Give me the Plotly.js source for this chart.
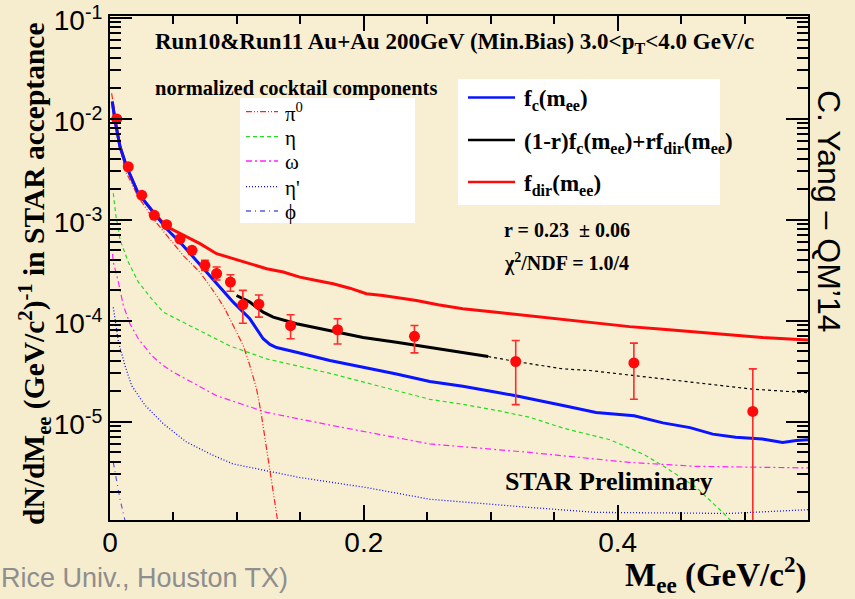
<!DOCTYPE html>
<html>
<head>
<meta charset="utf-8">
<script src="https://cdn.plot.ly/plotly-3.0.1.min.js"></script>
<style>
  html, body { margin: 0; padding: 0; background: #f6ecce; }
  #chart { width: 855px; height: 599px; }
</style>
</head>
<body>
<div id="chart"></div>
<script>
// Measured dielectron yield, Au+Au 200 GeV, 3.0 < pT < 4.0 GeV/c
const dataMass  = [0.0053, 0.0144, 0.025, 0.0349, 0.0446, 0.0551, 0.0646, 0.0748, 0.084, 0.0949, 0.1047, 0.1173, 0.1423, 0.1793, 0.2399, 0.3197, 0.4128, 0.5065];
const dataYield = [9.9e-3, 3.33e-3, 1.74e-3, 1.10e-3, 8.9e-4, 6.4e-4, 4.95e-4, 3.52e-4, 2.92e-4, 2.40e-4, 1.44e-4, 1.45e-4, 8.9e-5, 8.1e-5, 6.97e-5, 3.93e-5, 3.80e-5, 1.26e-5];
const dataHigh  = [1.05e-2, 3.5e-3, 1.83e-3, 1.16e-3, 9.4e-4, 6.8e-4, 5.3e-4, 3.94e-4, 3.39e-4, 2.84e-4, 1.99e-4, 1.79e-4, 1.14e-4, 1.04e-4, 8.93e-5, 6.34e-5, 5.97e-5, 3.32e-5];
const dataLow   = [9.3e-3, 3.16e-3, 1.65e-3, 1.04e-3, 8.4e-4, 6.0e-4, 4.6e-4, 3.13e-4, 2.52e-4, 1.95e-4, 9.4e-5, 1.08e-4, 6.6e-5, 5.86e-5, 4.78e-5, 1.47e-5, 1.66e-5, 1e-7];

// f_c(m_ee): hadronic cocktail shape
const fcMass  = [0.0018, 0.0039, 0.0079, 0.0131, 0.0223, 0.0328, 0.0446, 0.0577, 0.0709, 0.084, 0.0971, 0.1102, 0.1207, 0.126, 0.1312, 0.147, 0.1732, 0.1995, 0.2257, 0.252, 0.278, 0.3045, 0.3197, 0.357, 0.383, 0.413, 0.4357, 0.457, 0.475, 0.493, 0.514, 0.530, 0.5407, 0.55];
const fcYield = [1.47e-2, 9.66e-3, 5.25e-3, 3.33e-3, 1.81e-3, 1.24e-3, 8.1e-4, 5.5e-4, 3.55e-4, 2.31e-4, 1.52e-4, 1.04e-4, 6.6e-5, 5.8e-5, 5.4e-5, 4.86e-5, 4.02e-5, 3.45e-5, 2.96e-5, 2.49e-5, 2.24e-5, 1.95e-5, 1.8e-5, 1.44e-5, 1.23e-5, 1.14e-5, 9.7e-6, 8.7e-6, 7.5e-6, 7.0e-6, 6.7e-6, 6.2e-6, 6.5e-6, 6.6e-6];

// f_dir(m_ee): direct virtual photon shape
const fdirMass  = [0.0018, 0.0039, 0.0079, 0.0131, 0.0223, 0.0328, 0.0446, 0.0577, 0.0709, 0.084, 0.0971, 0.1102, 0.1234, 0.1365, 0.1496, 0.1627, 0.1758, 0.189, 0.202, 0.215, 0.2283, 0.2415, 0.2585, 0.278, 0.3045, 0.331, 0.357, 0.383, 0.4094, 0.4357, 0.462, 0.488, 0.514, 0.55];
const fdirYield = [1.47e-2, 9.66e-3, 5.25e-3, 3.33e-3, 1.81e-3, 1.24e-3, 8.5e-4, 6.98e-4, 5.77e-4, 4.59e-4, 4.09e-4, 3.65e-4, 3.26e-4, 3.02e-4, 2.69e-4, 2.49e-4, 2.31e-4, 2.09e-4, 1.84e-4, 1.77e-4, 1.67e-4, 1.58e-4, 1.43e-4, 1.31e-4, 1.21e-4, 1.11e-4, 1.03e-4, 9.5e-5, 8.7e-5, 8.2e-5, 7.7e-5, 7.2e-5, 6.8e-5, 6.4e-5];

// (1-r) f_c + r f_dir: fitted range and extrapolation
const fitMass  = [0.0997, 0.1102, 0.1207, 0.1286, 0.147, 0.160, 0.1785, 0.1995, 0.2257, 0.2415, 0.26, 0.298];
const fitYield = [1.77e-4, 1.52e-4, 1.21e-4, 1.08e-4, 9.3e-5, 8.6e-5, 7.8e-5, 6.8e-5, 6.1e-5, 5.7e-5, 5.2e-5, 4.4e-5];
const extMass  = [0.298, 0.3197, 0.357, 0.378, 0.413, 0.457, 0.5065, 0.55];
const extYield = [4.4e-5, 3.93e-5, 3.32e-5, 3.2e-5, 2.85e-5, 2.45e-5, 2.09e-5, 1.93e-5];

// Normalized cocktail components
const pi0Mass  = [0.0013, 0.0065, 0.0118, 0.0223, 0.034, 0.0577, 0.0709, 0.084, 0.0906, 0.0945, 0.105, 0.1102, 0.1155, 0.119, 0.126, 0.1325, 0.135];
const pi0Yield = [1.78e-2, 6.6e-3, 3.09e-3, 1.67e-3, 1.02e-3, 4.4e-4, 3.0e-4, 1.77e-4, 1.3e-4, 1.04e-4, 5.65e-5, 3.58e-5, 2.1e-5, 1.23e-5, 3.4e-6, 1.0e-6, 6e-7];
const etaMass  = [0.0026, 0.0045, 0.0066, 0.0079, 0.0144, 0.0223, 0.0328, 0.042, 0.0577, 0.084, 0.0945, 0.1234, 0.1758, 0.218, 0.252, 0.278, 0.3045, 0.331, 0.357, 0.394, 0.42, 0.4357, 0.462, 0.480, 0.4907, 0.495];
const etaYield = [1.82e-3, 1.12e-3, 8.1e-4, 6.3e-4, 3.8e-4, 2.4e-4, 1.64e-4, 1.21e-4, 9.6e-5, 6.6e-5, 5.6e-5, 4.17e-5, 2.95e-5, 2.14e-5, 1.66e-5, 1.48e-5, 1.29e-5, 1.10e-5, 8.6e-6, 6.6e-6, 4.76e-6, 3.65e-6, 2.22e-6, 1.36e-6, 1.0e-6, 7.9e-7];
const omegaMass  = [0.002, 0.0026, 0.0066, 0.0105, 0.0157, 0.0223, 0.0328, 0.042, 0.0499, 0.084, 0.1234, 0.1758, 0.252, 0.331, 0.409, 0.462, 0.55];
const omegaYield = [4.57e-4, 3.8e-4, 2.4e-4, 1.41e-4, 9.3e-5, 6.6e-5, 4.5e-5, 3.58e-5, 3.08e-5, 1.8e-5, 1.23e-5, 9.1e-6, 6.0e-6, 4.94e-6, 3.94e-6, 3.6e-6, 3.47e-6];
const etapMass  = [0.0026, 0.0066, 0.0118, 0.0171, 0.0276, 0.042, 0.06, 0.08, 0.097, 0.1496, 0.202, 0.252, 0.331, 0.383, 0.488, 0.55];
const etapYield = [1.35e-4, 6.2e-5, 3.58e-5, 2.26e-5, 1.45e-5, 9.5e-6, 6.3e-6, 4.7e-6, 3.8e-6, 2.79e-6, 2.22e-6, 1.70e-6, 1.41e-6, 1.26e-6, 1.23e-6, 1.34e-6];
const phiMass  = [0.0026, 0.0053, 0.0079, 0.0118, 0.014];
const phiYield = [3.94e-6, 2.49e-6, 1.70e-6, 1.05e-6, 7.9e-7];

// Axis tick labels
const xTickVals = [0, 0.2, 0.4];
const xTickText = ['0', '0.2', '0.4'];
const yTickVals = [1e-5, 1e-4, 1e-3, 1e-2, 1e-1];
const yTickText = ['10<sup>-5</sup>', '10<sup>-4</sup>', '10<sup>-3</sup>', '10<sup>-2</sup>', '10<sup>-1</sup>'];

// Legend entries
const cocktailNames  = ['π<sup>0</sup>', 'η', 'ω', 'η\'', 'ϕ'];
const cocktailColors = ['#ff2020', '#22dd22', '#ff22ff', '#1010ff', '#5a5af0'];
const cocktailDash   = ['6px,2px,1px,2px,1px,2px', '4px,3px', '6px,3px,2px,3px', '1px,2px', '5px,4px,1px,4px'];
const fitNames  = ['f<sub>c</sub>(m<sub>ee</sub>)', '(1-r)f<sub>c</sub>(m<sub>ee</sub>)+rf<sub>dir</sub>(m<sub>ee</sub>)', 'f<sub>dir</sub>(m<sub>ee</sub>)'];
const fitColors = ['#0a14ff', '#000000', '#ff0a0a'];

// Plot frame in pixels (used to place paper-referenced overlays)
const W = 855, H = 599, L = 110, R = 808, T = 16, B = 520;
const px = x => (x - L) / (R - L);
const py = y => (B - y) / (B - T);

function line(x, y, color, width, dash) {
  return { x, y, type: 'scatter', mode: 'lines', hoverinfo: 'skip', showlegend: false,
           line: { color, width, dash: dash || 'solid', shape: 'linear' } };
}

const traces = [
  line(phiMass, phiYield, cocktailColors[4], 1.2, cocktailDash[4]),
  line(etapMass, etapYield, cocktailColors[3], 1.3, cocktailDash[3]),
  line(omegaMass, omegaYield, cocktailColors[2], 1.2, cocktailDash[2]),
  line(etaMass, etaYield, cocktailColors[1], 1.2, cocktailDash[1]),
  line(pi0Mass, pi0Yield, cocktailColors[0], 1.2, cocktailDash[0]),
  line(fdirMass, fdirYield, fitColors[2], 3),
  line(fcMass, fcYield, fitColors[0], 3),
  line(fitMass, fitYield, fitColors[1], 3),
  line(extMass, extYield, fitColors[1], 1.2, '3px,3px'),
  {
    x: dataMass, y: dataYield, type: 'scatter', mode: 'markers', showlegend: false,
    marker: { color: '#ff0a0a', size: 11, symbol: 'circle' },
    error_y: {
      type: 'data', symmetric: false,
      array: dataHigh.map((h, i) => h - dataYield[i]),
      arrayminus: dataLow.map((l, i) => dataYield[i] - l),
      color: '#ff2a2a', thickness: 1.6, width: 4
    }
  },
  // carries the top and right tick axes of the frame
  { x: dataMass, y: dataYield, xaxis: 'x2', yaxis: 'y2', type: 'scatter', mode: 'markers',
    marker: { opacity: 0 }, hoverinfo: 'skip', showlegend: false }
];

const serif = 'Liberation Serif, Times New Roman, serif';
const sans = 'Liberation Sans, Arial, sans-serif';

const shapes = [];
const annotations = [];

// White legend panels
shapes.push({ type: 'rect', xref: 'paper', yref: 'paper', layer: 'below',
  x0: px(240), x1: px(415), y0: py(223), y1: py(98), fillcolor: '#ffffff', line: { width: 0 } });
shapes.push({ type: 'rect', xref: 'paper', yref: 'paper', layer: 'below',
  x0: px(458), x1: px(720), y0: py(205), y1: py(79), fillcolor: '#ffffff', line: { width: 0 } });

// Cocktail legend
const cocktailRows = [111.7, 136.7, 161, 186.7, 211];
cocktailNames.forEach((name, i) => {
  shapes.push({ type: 'line', xref: 'paper', yref: 'paper', layer: 'above',
    x0: px(246), x1: px(278), y0: py(cocktailRows[i]), y1: py(cocktailRows[i]),
    line: { color: cocktailColors[i], width: 1.3, dash: cocktailDash[i] } });
  annotations.push({ xref: 'paper', yref: 'paper', x: px(283), y: py(cocktailRows[i] + 1),
    xanchor: 'left', yanchor: 'middle', showarrow: false, text: name,
    font: { family: serif, size: 21, color: '#000' } });
});

// Fit legend
const fitRows = [97.5, 140, 182];
fitNames.forEach((name, i) => {
  shapes.push({ type: 'line', xref: 'paper', yref: 'paper', layer: 'above',
    x0: px(468), x1: px(515), y0: py(fitRows[i]), y1: py(fitRows[i]),
    line: { color: fitColors[i], width: 2.5 } });
  annotations.push({ xref: 'paper', yref: 'paper', x: px(522), y: py(fitRows[i] + 3),
    xanchor: 'left', yanchor: 'middle', showarrow: false, text: '<b>' + name + '</b>',
    font: { family: serif, size: 23, color: '#000' } });
});

function note(text, x, y, size, opts) {
  annotations.push(Object.assign({ xref: 'paper', yref: 'paper', x: px(x), y: py(y),
    xanchor: 'left', yanchor: 'middle', showarrow: false, text,
    font: { family: serif, size, color: '#000' } }, opts || {}));
}

note('<b>Run10&amp;Run11 Au+Au 200GeV (Min.Bias) 3.0&lt;p<sub>T</sub>&lt;4.0 GeV/c</b>', 153, 43, 23);
note('<b>normalized cocktail components</b>', 153, 88, 20.5);
note('<b>r = 0.23  ± 0.06</b>', 502, 230, 20);
note('<b>χ<sup>2</sup>/NDF = 1.0/4</b>', 502, 262, 20);
note('<b>STAR Preliminary</b>', 503, 481, 26);
note('<b>dN/dM<sub>ee</sub> (GeV/c<sup>2</sup>)<sup>-1</sup> in STAR acceptance</b>', 34, 274, 29.5,
  { xanchor: 'center', textangle: -90 });
note('<b>M<sub>ee</sub> (GeV/c<sup>2</sup>)</b>', 808, 574, 33, { xanchor: 'right' });
note('C. Yang – QM’14', 829, 211, 32,
  { xanchor: 'center', textangle: 90, font: { family: sans, size: 32, color: '#000' } });
note('Rice Univ., Houston TX)', -1, 578, 27,
  { font: { family: sans, size: 27, color: '#8e8e8e' } });

// Minor tick positions on the log axis: 2..9 in each decade
const yMinor = [];
for (let e = -6; e <= -2; e++) for (let m = 2; m <= 9; m++) yMinor.push(m * Math.pow(10, e));

const xRange = [0, 0.55];
const yRange = [-5.975, -0.985];

const xTicks = {
  ticks: 'inside', ticklen: 15, tickwidth: 2, tickcolor: '#000', tickvals: xTickVals,
  minor: { dtick: 0.05, ticks: 'inside', ticklen: 8, tickwidth: 2, tickcolor: '#000', showgrid: false }
};
const yTicks = {
  ticks: 'inside', ticklen: 22, tickwidth: 2, tickcolor: '#000', tickvals: yTickVals,
  minor: { tickvals: yMinor, ticks: 'inside', ticklen: 11, tickwidth: 2, tickcolor: '#000', showgrid: false }
};

const layout = {
  width: W, height: H,
  margin: { l: L, r: W - R, t: T, b: H - B, pad: 0 },
  paper_bgcolor: '#f6ecce',
  plot_bgcolor: '#f8efd3',
  showlegend: false,
  xaxis: Object.assign({
    range: xRange, showgrid: false, zeroline: false,
    showline: true, linecolor: '#000', linewidth: 2, mirror: true,
    ticktext: xTickText, ticklabelstandoff: -4,
    tickfont: { family: sans, size: 28, color: '#000' }
  }, xTicks),
  yaxis: Object.assign({
    type: 'log', range: yRange, showgrid: false, zeroline: false,
    showline: true, linecolor: '#000', linewidth: 2, mirror: true,
    ticktext: yTickText, ticklabelshift: 3,
    tickfont: { family: sans, size: 28, color: '#000' }
  }, yTicks),
  xaxis2: Object.assign({
    overlaying: 'x', side: 'top', anchor: 'y2', range: xRange,
    showgrid: false, zeroline: false, showline: false, showticklabels: false
  }, xTicks),
  yaxis2: Object.assign({
    overlaying: 'y', side: 'right', anchor: 'x2', type: 'log', range: yRange,
    showgrid: false, zeroline: false, showline: false, showticklabels: false
  }, yTicks),
  shapes, annotations
};

Plotly.newPlot('chart', traces, layout, { staticPlot: true, displayModeBar: false });
</script>
</body>
</html>
